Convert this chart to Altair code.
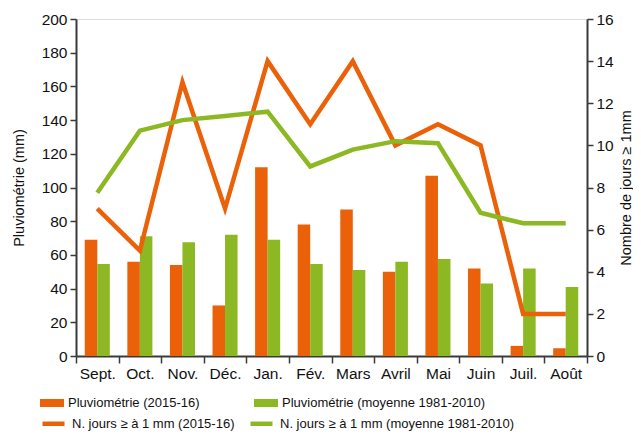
import altair as alt
import pandas as pd

months = ["Sept.", "Oct.", "Nov.", "Déc.", "Jan.", "Fév.", "Mars", "Avril", "Mai", "Juin", "Juil.", "Août"]
rain_2015 = [69, 56, 54, 30, 112, 78, 87, 50, 107, 52, 6, 4.6]
rain_avg = [54.6, 71, 67.5, 72, 69, 54.6, 51, 56, 57.6, 43, 52, 41]
days_2015 = [7, 5, 13, 7, 14, 11, 14, 10, 11, 10, 2, 2]
days_avg = [7.75, 10.7, 11.2, 11.4, 11.6, 9.0, 9.8, 10.2, 10.1, 6.8, 6.3, 6.3]

s_rain = ["Pluviométrie (2015-16)", "Pluviométrie (moyenne 1981-2010)"]
s_days = ["N. jours ≥ à 1 mm (2015-16)", "N. jours ≥ à 1 mm (moyenne 1981-2010)"]
left_ticks = list(range(0, 201, 20))
right_ticks = list(range(0, 17, 2))

ORANGE = "#EA6109"
GREEN = "#8CB823"
FONT = "Liberation Sans"
AX = "#3a3a3a"

bars_df = pd.DataFrame({
    "mois": months * 2,
    "serie": [s_rain[0]] * 12 + [s_rain[1]] * 12,
    "mm": rain_2015 + rain_avg,
})
lines_df = pd.DataFrame({
    "mois": months * 2,
    "serie": [s_days[0]] * 12 + [s_days[1]] * 12,
    "jours": days_2015 + days_avg,
})

x_enc = alt.X(
    "mois:N", sort=months,
    scale=alt.Scale(paddingInner=0, paddingOuter=0),
    axis=alt.Axis(title=None, tickBand="extent", labelAngle=0, labelFont=FONT,
                  labelFontSize=15.5, labelColor="#111", domainColor=AX, domainWidth=2,
                  tickColor=AX, tickWidth=1.5, tickSize=7, labelPadding=3),
)

bars = alt.Chart(bars_df).mark_bar().encode(
    x=x_enc,
    xOffset=alt.XOffset("serie:N", sort=s_rain,
                        scale=alt.Scale(paddingInner=0, paddingOuter=0.7)),
    y=alt.Y("mm:Q", scale=alt.Scale(domain=[0, 200], nice=False),
            axis=alt.Axis(orient="left", values=left_ticks, title="Pluviométrie (mm)",
                          grid=False, labelFont=FONT, labelFontSize=15.5, labelColor="#111",
                          titleFont=FONT, titleFontSize=14.5, titleFontWeight="normal",
                          titleColor="#111", titlePadding=15, domainColor=AX, domainWidth=2,
                          tickColor=AX, tickWidth=1.5, tickSize=6, labelPadding=3)),
    color=alt.Color("serie:N", sort=s_rain,
                    scale=alt.Scale(domain=s_rain, range=[ORANGE, GREEN]),
                    legend=alt.Legend(orient="none", legendX=-32, legendY=376,
                                      direction="horizontal", columns=2, title=None,
                                      symbolType="M-1.5,-0.5H1.5V0.5H-1.5Z", symbolSize=256,
                                      symbolStrokeWidth=0, labelOffset=8,
                                      labelFont=FONT, labelFontSize=13, labelColor="#111",
                                      columnPadding=54, labelLimit=400)),
)

lines = alt.Chart(lines_df).mark_line(strokeWidth=4.5).encode(
    x=x_enc,
    y=alt.Y("jours:Q", scale=alt.Scale(domain=[0, 16], nice=False),
            axis=alt.Axis(orient="right", values=right_ticks, title="Nombre de jours ≥ 1mm",
                          titleAngle=270, titleBaseline="top", grid=False, labelFont=FONT,
                          labelFontSize=15.5, labelColor="#111", titleFont=FONT,
                          titleFontSize=14.5, titleFontWeight="normal", titleColor="#111",
                          titlePadding=6, domainColor=AX, domainWidth=2, tickColor=AX,
                          tickWidth=1.5, tickSize=6, labelPadding=3)),
    stroke=alt.Stroke("serie:N", sort=s_days,
                      scale=alt.Scale(domain=s_days, range=[ORANGE, GREEN]),
                      legend=alt.Legend(orient="none", legendX=-36, legendY=391,
                                        direction="horizontal", columns=2, title=None,
                                        symbolType="stroke", symbolSize=484,
                                        symbolStrokeWidth=4.5, labelOffset=5,
                                        labelFont=FONT, labelFontSize=13, labelColor="#111",
                                        columnPadding=6, labelLimit=400)),
)

chart = alt.layer(bars, lines).resolve_scale(
    y="independent", color="independent", stroke="independent"
).properties(
    width=511, height=337,
    autosize=alt.AutoSizeParams(type="none"),
    padding={"left": 68, "top": 11, "right": 46, "bottom": 75},
).configure_view(stroke=None).configure(background="white")

chart.save("out.html", embed_options={"renderer": "svg", "actions": False})
